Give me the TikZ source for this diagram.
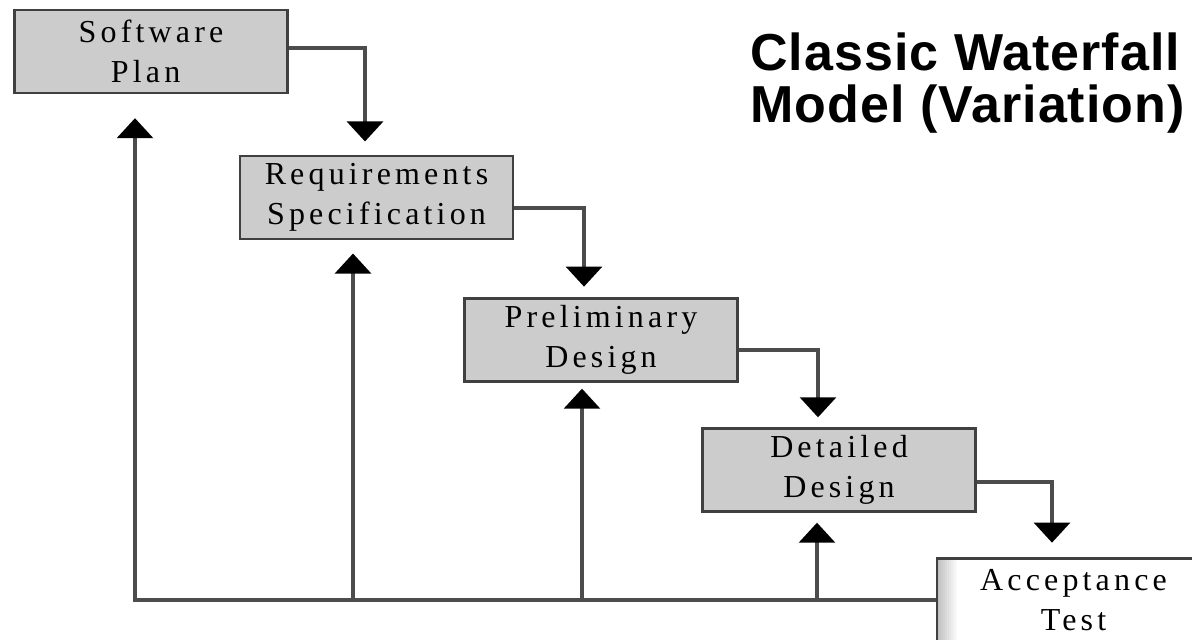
\documentclass[tikz,border=0pt]{standalone}
\usepackage{fontspec}
\usetikzlibrary{arrows.meta}
\newfontfamily\stagefont[LetterSpace=13]{Liberation Serif}
\newfontfamily\titlefont[LetterSpace=2]{Liberation Sans}
\tikzset{
  stage/.style={draw=black!75, line width=1.8pt, fill=gray!40, align=center,
    minimum width=204.75pt, minimum height=62.25pt, inner sep=0pt,
    font=\stagefont\fontsize{24}{30}\selectfont, text=black},
  title/.style={font=\titlefont\bfseries\fontsize{39}{39}\selectfont, inner sep=0pt},
  flow/.style={draw=black!70, line width=2.3pt, -{Triangle[width=27pt,length=15pt,color=black]}},
}
\begin{document}
\begin{tikzpicture}[x=0.75pt,y=0.75pt,yscale=-1,xscale=1]
\useasboundingbox (0,0) rectangle (1192,639);

% stages of the waterfall
\node[stage] (sp) at (151,51.5) {Software\\Plan\hspace*{8pt}};
\node[stage] (rs) at (376.5,197.5) {Requirements\\Specification};
\node[stage] (pd) at (601,340) {Preliminary\\Design};
\node[stage] (dd) at (839,470) {Detailed\\Design};
\node[stage, fill=white, path picture={
    \foreach \k in {0,...,9}
      \fill[gray!\the\numexpr 50-5*\k\relax]
        ([xshift=1.5*\k pt]path picture bounding box.north west) rectangle
        ([xshift=1.5*\k pt+1.6pt]path picture bounding box.south west);}]
  (at) at (1073.5,600) {Acceptance\\Test};

% title
\node[title, anchor=base west] (title1) at (750,70) {Classic Waterfall};
\node[title, anchor=base west] (title2) at (750,122) {Model (Variation)};

% forward flow
\draw[flow, shorten >=10pt] (sp.east |- 0,48) -| (365,0 |- rs.north);
\draw[flow, shorten >=8pt] (rs.east |- 0,208) -| (584,0 |- pd.north);
\draw[flow, shorten >=7.5pt] (pd.east |- 0,350) -| (818,0 |- dd.north);
\draw[flow, shorten >=11pt] (dd.east |- 0,482) -| (1052,0 |- at.north);

% feedback to earlier stages
\draw[flow, shorten >=18pt] (at.west) -| (135,0 |- sp.south);
\draw[flow, shorten >=10pt] (353,0 |- at.west) -- (353,0 |- rs.south);
\draw[flow, shorten >=4.5pt] (582,0 |- at.west) -- (582,0 |- pd.south);
\draw[flow, shorten >=7.5pt] (817,0 |- at.west) -- (817,0 |- dd.south);
\end{tikzpicture}
\end{document}
